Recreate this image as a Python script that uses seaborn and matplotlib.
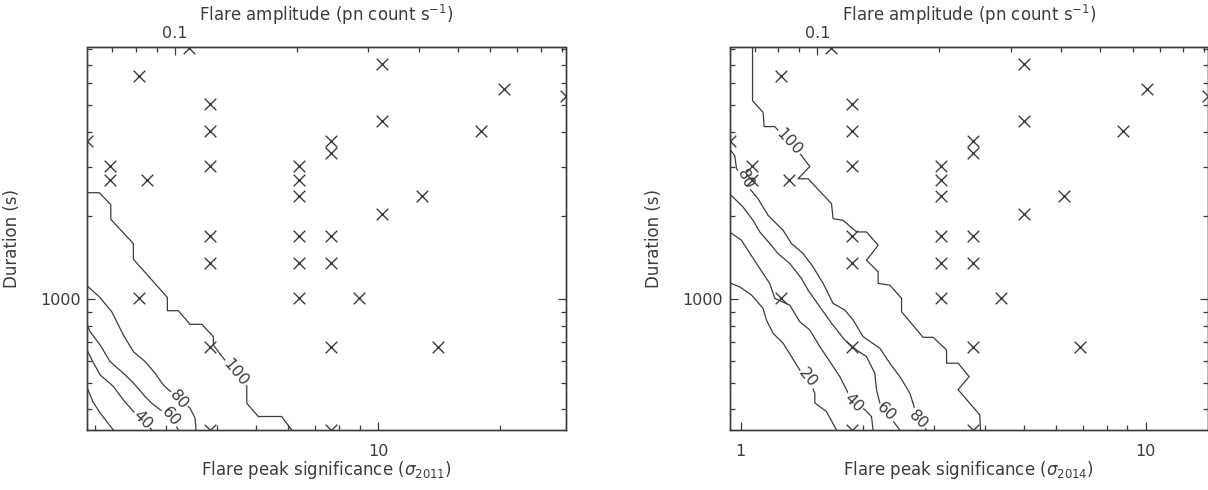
import numpy as np
import matplotlib
matplotlib.use("Agg")
import matplotlib.pyplot as plt
import matplotlib.ticker as mticker
import seaborn as sns

# flares: amplitude (pn count/s) and duration (s)
amplitude = [0.1081, 0.0815, 0.3243, 0.650, 0.9226, 0.1218, 0.1218, 0.3243, 0.5685,
             0.0607, 0.2429, 0.2429, 0.0691, 0.0691, 0.0853, 0.1218, 0.2023, 0.2023,
             0.2023, 0.4071, 0.3243, 0.1218, 0.2023, 0.2429, 0.1218, 0.2023, 0.2429,
             0.0815, 0.2023, 0.2844, 0.1218, 0.2429, 0.4458, 0.1218, 0.2429]
duration = [8088, 6403, 7077, 5729, 5392, 5055, 4044, 4381, 4044,
            3707, 3707, 3370, 3033, 2696, 2696, 3033, 3033, 2696,
            2359, 2359, 2022, 1685, 1685, 1685, 1348, 1348, 1348,
            1011, 1011, 1011, 674, 674, 674, 337, 337]

# significance per unit amplitude in each epoch
sig_per_amp = {"2011": 31.54, "2014": 15.45}

# detection efficiency contours (%) in (significance, duration)
c2011 = {
    100: ([1.915, 2.05, 2.188, 2.188, 2.488, 2.488, 3.018, 3.018, 3.213, 3.434, 3.670,
           3.920, 3.920, 4.15, 4.74, 4.74, 5.06, 5.78, 6.12],
          [2420, 2420, 2191, 1940, 1586, 1393, 1014, 908, 908, 811, 811,
           732, 683, 612, 484, 421, 377, 377, 337]),
    80: ([1.915, 2.05, 2.20, 2.35, 2.488, 2.66, 2.815, 2.95, 3.035, 3.434, 3.532, 3.553],
         [1114, 1019, 900, 742, 646, 595, 540, 490, 471, 404, 372, 337]),
    60: ([1.915, 1.945, 2.059, 2.179, 2.35, 2.488, 2.66, 2.762, 2.895, 3.077, 3.213],
         [806, 763, 683, 595, 540, 498, 445, 421, 399, 375, 337]),
    40: ([1.915, 1.975, 2.059, 2.22, 2.35, 2.488, 2.624, 2.762],
         [652, 595, 533, 484, 433, 393, 367, 337]),
    20: ([1.915, 1.975, 2.059, 2.22],
         [477, 427, 388, 337]),
}
c2014 = {
    100: ([1.069, 1.069, 1.135, 1.142, 1.213, 1.412, 1.480, 1.385, 1.466, 1.675, 1.690,
           1.789, 1.931, 2.044, 2.183, 2.044, 2.183, 2.183, 2.333, 2.494, 2.494, 2.818,
           2.985, 3.221, 3.221, 3.440, 3.662, 3.440, 3.891, 3.907],
          [8088, 5198, 4718, 4192, 4192, 3296, 3009, 2718, 2718, 2209, 1951,
           1924, 1747, 1747, 1564, 1381, 1254, 1139, 1123, 1006, 900, 728,
           728, 655, 587, 587, 525, 471, 382, 337]),
    80: ([0.938, 0.966, 0.976, 1.023, 1.052, 1.103, 1.135, 1.168, 1.213, 1.272, 1.334,
          1.425, 1.508, 1.597, 1.690, 1.806, 1.894, 2.004, 2.204, 2.333, 2.470, 2.614,
          2.741, 2.874],
         [3485, 3296, 2953, 2696, 2502, 2302, 2148, 2005, 1897, 1771, 1586,
          1460, 1307, 1139, 965, 913, 840, 732, 665, 587, 525, 458,
          367, 337]),
    60: ([0.938, 1.013, 1.072, 1.114, 1.179, 1.236, 1.321, 1.412, 1.466, 1.567, 1.675,
          1.806, 1.931, 2.044, 2.142, 2.163, 2.204, 2.289, 2.470],
         [2400, 2148, 1924, 1747, 1586, 1460, 1344, 1187, 1077, 938, 818,
          712, 655, 620, 540, 471, 422, 390, 337]),
    40: ([0.938, 1.004, 1.093, 1.179, 1.213, 1.321, 1.398, 1.480, 1.567, 1.659, 1.756,
          1.841, 1.894, 2.024, 2.102, 2.121],
         [1747, 1630, 1344, 1139, 1006, 951, 829, 774, 674, 595, 525,
          458, 422, 399, 377, 337]),
    20: ([0.938, 0.994, 1.063, 1.135, 1.157, 1.202, 1.272, 1.334, 1.398, 1.466, 1.523,
          1.523, 1.627, 1.723],
         [1145, 1107, 1034, 926, 840, 752, 693, 620, 555, 518, 458,
          422, 393, 337]),
}

# contour labels: level, significance, duration, angle
lab2011 = [(100, 4.436, 540, -50), (80, 3.213, 433, -50), (60, 3.077, 375, -50), (40, 2.624, 367, -45)]
lab2014 = [(100, 1.314, 3679, -47), (80, 1.023, 2696, -65), (20, 1.466, 518, -50),
           (40, 1.894, 422, -45), (60, 2.289, 390, -45), (80, 2.741, 367, -45)]

INK = "#3c3c3c"

sns.set_theme(style="ticks", rc={
    "axes.edgecolor": INK, "axes.linewidth": 1.0,
    "xtick.color": INK, "ytick.color": INK,
    "axes.labelcolor": INK, "text.color": INK,
})
plt.rcParams["font.family"] = ["DejaVu Sans"]

fmt = mticker.FuncFormatter(lambda v, p: f"{v:g}")


def log_ticks(axis):
    axis.set_major_locator(mticker.LogLocator(base=10, numticks=20))
    axis.set_minor_locator(mticker.LogLocator(base=10, subs=np.arange(2, 10), numticks=50))
    axis.set_major_formatter(fmt)
    axis.set_minor_formatter(mticker.NullFormatter())


def draw_panel(ax, year, contours, labels):
    k = sig_per_amp[year]
    sig = np.array(amplitude) * k
    ax.set(xscale="log", yscale="log")

    for level, (cx, cy) in contours.items():
        sns.lineplot(x=cx, y=cy, sort=False, estimator=None, color=INK, linewidth=0.9, ax=ax)
    for level, lx, ly, rot in labels:
        ax.text(lx, ly, str(level), rotation=rot, ha="center", va="center", fontsize=11.5,
                color=INK, zorder=2,
                bbox=dict(boxstyle="square,pad=0.05", fc="white", ec="none"))

    sns.scatterplot(x=sig, y=duration, marker="x", s=70, color=INK, linewidth=1.0,
                    ax=ax, zorder=3, legend=False)

    ax.set_xlim(sig.min(), sig.max())
    ax.set_ylim(min(duration), max(duration))
    log_ticks(ax.xaxis)
    log_ticks(ax.yaxis)
    ax.tick_params(which="both", direction="in", top=False, right=True, labelsize=11.5)
    ax.tick_params(which="major", length=6, width=0.9)
    ax.tick_params(which="minor", length=3.6, width=0.9)
    ax.tick_params(axis="x", pad=10)
    ax.tick_params(axis="y", pad=4.5)

    ax.set_xlabel(r"Flare peak significance ($\sigma_{%s}$)" % year, fontsize=12)
    ax.xaxis.set_label_coords(0.5, -0.076)
    ax.set_ylabel("Duration (s)", fontsize=12)
    ax.yaxis.set_label_coords(-0.1385, 0.5)

    top = ax.twiny()
    top.set_xscale("log")
    top.set_xlim(sig.min() / k, sig.max() / k)
    log_ticks(top.xaxis)
    top.tick_params(which="both", direction="in", labelsize=11.5, pad=5)
    top.tick_params(which="major", length=6, width=0.9)
    top.tick_params(which="minor", length=3.6, width=0.9)
    top.set_xlabel(r"Flare amplitude (pn count s$^{-1}$)", fontsize=12)
    top.xaxis.set_label_coords(0.5, 1.07)


fig = plt.figure(figsize=(12.08, 4.90), dpi=100)
ax1 = fig.add_axes([87.3 / 1208, 60 / 490, 478.7 / 1208, 382.5 / 490])
ax2 = fig.add_axes([729.5 / 1208, 60 / 490, 478.7 / 1208, 382.5 / 490])

draw_panel(ax1, "2011", c2011, lab2011)
draw_panel(ax2, "2014", c2014, lab2014)

fig.savefig("out.png", dpi=100)
